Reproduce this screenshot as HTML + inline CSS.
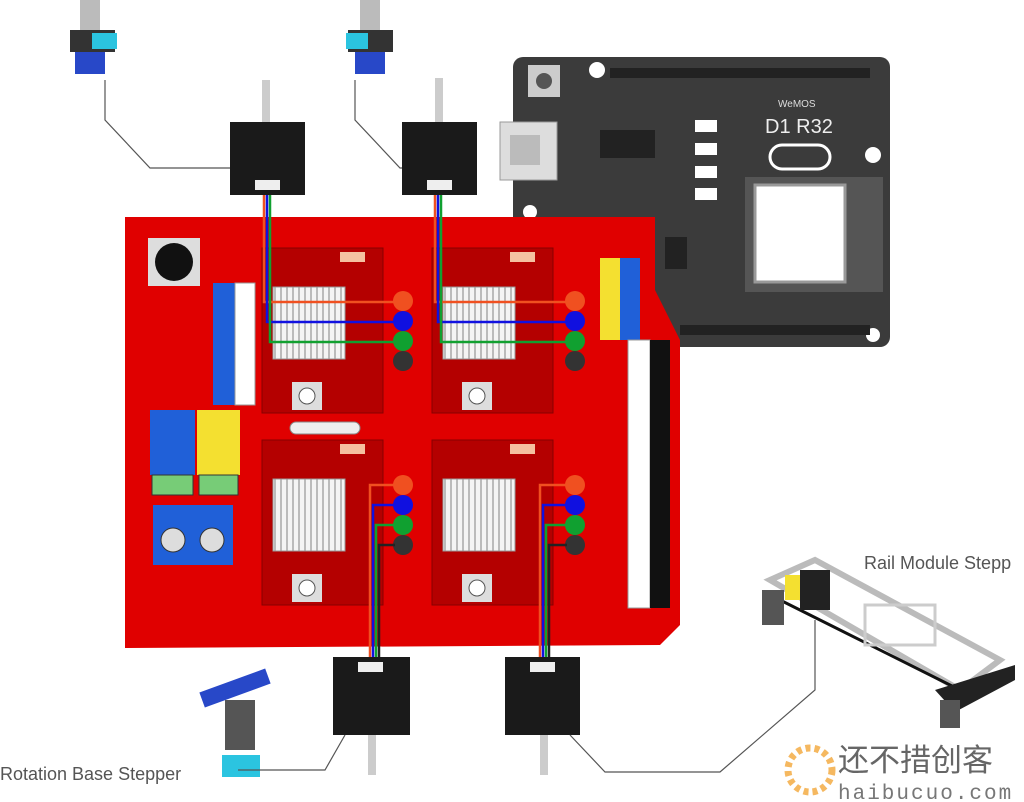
<!DOCTYPE html>
<html><head><meta charset="utf-8"><style>
html,body{margin:0;padding:0;background:#fff;width:1024px;height:802px;overflow:hidden}
svg{display:block}
</style></head><body>
<svg width="1024" height="802" viewBox="0 0 1024 802" xmlns="http://www.w3.org/2000/svg" font-family="Liberation Sans, sans-serif">
<defs>
<pattern id="fins" width="6" height="72" patternUnits="userSpaceOnUse"><rect width="6" height="72" fill="#f4f4f4"/><rect x="4" width="2" height="72" fill="#bbb"/></pattern>
</defs>
<rect width="1024" height="802" fill="#fff"/>
<!-- top arms -->
<g><rect x="70" y="30" width="45" height="22" fill="#333"/><rect x="92" y="33" width="25" height="16" fill="#2bc4e0"/><rect x="75" y="52" width="30" height="22" fill="#2848c8"/><rect x="80" y="0" width="20" height="30" fill="#bbb"/></g>
<g><rect x="348" y="30" width="45" height="22" fill="#333"/><rect x="346" y="33" width="22" height="16" fill="#2bc4e0"/><rect x="355" y="52" width="30" height="22" fill="#2848c8"/><rect x="360" y="0" width="20" height="30" fill="#bbb"/></g>
<polyline points="105,80 105,120 150,168 230,168" fill="none" stroke="#555" stroke-width="1.2"/>
<polyline points="355,80 355,120 400,168 402,168" fill="none" stroke="#555" stroke-width="1.2"/>
<!-- WeMOS board -->
<rect x="513" y="57" width="377" height="290" rx="10" fill="#3b3b3b"/>
<circle cx="597" cy="70" r="8" fill="#fff"/><circle cx="873" cy="155" r="8" fill="#fff"/><circle cx="530" cy="212" r="7" fill="#fff"/><circle cx="873" cy="335" r="7" fill="#fff"/>
<rect x="528" y="65" width="32" height="32" fill="#ccc"/><circle cx="544" cy="81" r="8" fill="#555"/>
<rect x="500" y="122" width="57" height="58" fill="#ddd" stroke="#999"/><rect x="510" y="135" width="30" height="30" fill="#bbb"/>
<rect x="610" y="68" width="260" height="10" fill="#222"/>
<rect x="600" y="130" width="55" height="28" fill="#222"/>
<rect x="695" y="120" width="22" height="12" fill="#fff"/><rect x="695" y="143" width="22" height="12" fill="#fff"/><rect x="695" y="166" width="22" height="12" fill="#fff"/><rect x="695" y="188" width="22" height="12" fill="#fff"/>
<rect x="770" y="145" width="60" height="24" rx="12" fill="none" stroke="#fff" stroke-width="3"/>
<rect x="745" y="177" width="138" height="115" fill="#555"/>
<rect x="755" y="185" width="90" height="97" fill="#fff" stroke="#999" stroke-width="3"/>
<rect x="665" y="237" width="22" height="32" fill="#222"/>
<rect x="680" y="325" width="190" height="10" fill="#222"/>
<text x="778" y="107" font-size="10" fill="#ddd">WeMOS</text>
<text x="765" y="133" font-size="20" fill="#eee">D1 R32</text>
<!-- red shield -->
<polygon points="125,217 655,217 655,290 680,340 680,625 660,645 125,648" fill="#e00000"/>
<rect x="148" y="238" width="52" height="48" fill="#ddd"/>
<circle cx="174" cy="262" r="19" fill="#111"/>
<rect x="213" y="283" width="22" height="122" fill="#2060d8"/><rect x="235" y="283" width="20" height="122" fill="#fff" stroke="#999"/>
<rect x="600" y="258" width="20" height="82" fill="#f4e030"/><rect x="620" y="258" width="20" height="82" fill="#2060d8"/>
<rect x="628" y="340" width="22" height="268" fill="#fff" stroke="#999"/><rect x="650" y="340" width="20" height="268" fill="#111"/>
<rect x="150" y="410" width="45" height="65" fill="#2060d8"/><rect x="152" y="475" width="41" height="20" fill="#7c7" stroke="#333"/>
<rect x="197" y="410" width="43" height="65" fill="#f4e030"/><rect x="199" y="475" width="39" height="20" fill="#7c7" stroke="#333"/>
<rect x="153" y="505" width="80" height="60" fill="#2060d8"/><circle cx="173" cy="540" r="12" fill="#ddd" stroke="#333"/><circle cx="212" cy="540" r="12" fill="#ddd" stroke="#333"/>
<rect x="290" y="422" width="70" height="12" rx="6" fill="#eee" stroke="#888"/>
<!-- drivers -->
<g id="d">
<rect x="262" y="248" width="121" height="165" fill="#b40000" stroke="#800" /><rect x="273" y="287" width="72" height="72" fill="url(#fins)" stroke="#999"/>
<rect x="340" y="252" width="25" height="10" fill="#f5c0a0"/><rect x="292" y="382" width="30" height="28" fill="#ddd"/><circle cx="307" cy="396" r="8" fill="#fff" stroke="#555"/>
</g>
<use href="#d" x="170"/><use href="#d" y="192"/><use href="#d" x="170" y="192"/>
<g id="l"><circle cx="403" cy="301" r="10" fill="#f05020"/><circle cx="403" cy="321" r="10" fill="#1010e0"/><circle cx="403" cy="341" r="10" fill="#10a030"/><circle cx="403" cy="361" r="10" fill="#333"/></g>
<use href="#l" x="172"/><use href="#l" y="184"/><use href="#l" x="172" y="184"/>
<!-- wires -->
<g fill="none" stroke-width="2.5">
<path d="M264 190V302H395" stroke="#f05020"/><path d="M267 190V322H395" stroke="#1010e0"/><path d="M270 190V342H395" stroke="#10a030"/>
<path d="M435 190V302H567" stroke="#f05020"/><path d="M438 190V322H567" stroke="#1010e0"/><path d="M441 190V342H567" stroke="#10a030"/>
<path d="M395 485H370V665" stroke="#f05020"/><path d="M395 505H373V665" stroke="#1010e0"/><path d="M395 525H376V665" stroke="#10a030"/><path d="M395 545H379V665" stroke="#222"/>
<path d="M567 485H540V665" stroke="#f05020"/><path d="M567 505H543V665" stroke="#1010e0"/><path d="M567 525H546V665" stroke="#10a030"/><path d="M567 545H549V665" stroke="#222"/>
</g>
<!-- motors -->
<g fill="#1a1a1a"><rect x="230" y="122" width="75" height="73"/><rect x="402" y="122" width="75" height="73"/><rect x="333" y="657" width="77" height="78"/><rect x="505" y="657" width="75" height="78"/></g>
<g fill="#eee"><rect x="255" y="180" width="25" height="10"/><rect x="427" y="180" width="25" height="10"/><rect x="358" y="662" width="25" height="10"/><rect x="530" y="662" width="25" height="10"/></g>
<g fill="#ccc"><rect x="262" y="80" width="8" height="42"/><rect x="435" y="78" width="8" height="44"/><rect x="368" y="735" width="8" height="40"/><rect x="540" y="735" width="8" height="40"/></g>
<!-- bottom arm -->
<rect x="200" y="680" width="70" height="16" fill="#2848c8" transform="rotate(-20 235 688)"/><rect x="225" y="700" width="30" height="50" fill="#555"/><rect x="222" y="755" width="38" height="22" fill="#2bc4e0"/>
<polyline points="238,770 325,770 345,735" fill="none" stroke="#555" stroke-width="1.2"/>
<polyline points="570,735 605,772 720,772 815,690 815,620" fill="none" stroke="#555" stroke-width="1.2"/>
<!-- rail -->
<g>
<polygon points="770,580 815,560 1000,660 960,690" fill="none" stroke="#bbb" stroke-width="6"/>
<line x1="780" y1="600" x2="960" y2="690" stroke="#111" stroke-width="3"/>
<rect x="785" y="575" width="40" height="25" fill="#f4e030"/><rect x="800" y="570" width="30" height="40" fill="#222"/>
<polygon points="935,690 1015,665 1015,680 955,712" fill="#222"/>
<rect x="865" y="605" width="70" height="40" fill="none" stroke="#ccc" stroke-width="3"/>
<rect x="762" y="590" width="22" height="35" fill="#555"/>
<rect x="940" y="700" width="20" height="28" fill="#555"/>
</g>
<text x="864" y="569" font-size="18" fill="#555">Rail Module Stepp</text>
<text x="0" y="780" font-size="18" fill="#555">Rotation Base Stepper</text>
<circle cx="810" cy="770" r="22" fill="none" stroke="#f5b860" stroke-width="7" stroke-dasharray="5 4"/>
<text x="838" y="771" font-size="31" fill="#666" font-family="Liberation Sans, Noto Sans CJK SC, sans-serif">还不措创客</text>
<text x="838" y="799" font-size="21" fill="#777" letter-spacing="2" font-family="Liberation Mono, monospace">haibucuo.com</text>
</svg>
</body></html>
